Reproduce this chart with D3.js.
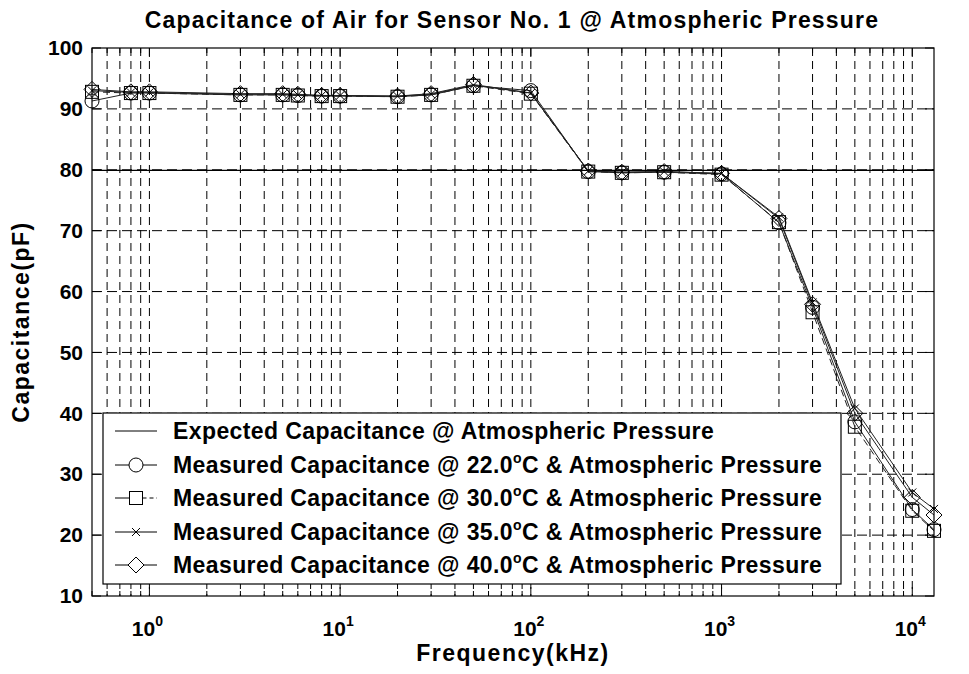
<!DOCTYPE html>
<html>
<head>
<meta charset="utf-8">
<script src="https://cdn.jsdelivr.net/npm/d3@7"></script>
<style>
  html, body { margin: 0; padding: 0; background: #fff; }
  svg { display: block; font-family: "Liberation Sans", Arial, sans-serif; }
</style>
</head>
<body>
<svg id="chart" width="969" height="674"></svg>
<script>
// ---------------- data ----------------
const freqs = [0.5, 0.8, 1, 3, 5, 6, 8, 10, 20, 30, 50, 100, 200, 300, 500, 1000, 2000, 3000, 5000, 10000, 13000];
const cap22 = [91.3, 92.6, 92.6, 92.3, 92.3, 92.2, 92.1, 92.1, 92.0, 92.3, 93.8, 93.0, 79.7, 79.5, 79.6, 79.3, 71.3, 57.4, 38.6, 24.2, 20.9];
const cap30 = [92.8, 92.6, 92.6, 92.3, 92.3, 92.2, 92.1, 92.1, 92.0, 92.3, 93.8, 92.5, 79.7, 79.5, 79.6, 79.2, 71.4, 56.6, 37.8, 24.0, 20.7];
const cap35 = [93.0, 92.7, 92.7, 92.4, 92.4, 92.3, 92.2, 92.2, 92.1, 92.4, 93.9, 92.6, 79.8, 79.6, 79.7, 79.4, 72.2, 58.2, 40.8, 27.0, 24.3];
const cap40 = [93.2, 92.8, 92.8, 92.5, 92.5, 92.4, 92.2, 92.2, 92.1, 92.5, 94.0, 92.6, 79.8, 79.6, 79.7, 79.4, 72.0, 57.9, 40.0, 26.2, 23.3];
const expectedFreqs = [0.5, 13000];
const expectedCap = [79.9, 79.9];
const yTicks = [10, 20, 30, 40, 50, 60, 70, 80, 90, 100];
const xMajorTicks = [1, 10, 100, 1000, 10000];
const xTickExponents = ["0", "1", "2", "3", "4"];
const legendLabels = [
  ["Expected Capacitance @ Atmospheric Pressure", null],
  ["Measured Capacitance @ 22.0", "C & Atmospheric Pressure"],
  ["Measured Capacitance @ 30.0", "C & Atmospheric Pressure"],
  ["Measured Capacitance @ 35.0", "C & Atmospheric Pressure"],
  ["Measured Capacitance @ 40.0", "C & Atmospheric Pressure"]
];
const titleText = "Capacitance of Air for Sensor No. 1 @ Atmospheric Pressure";

// ---------------- layout ----------------
const svg = d3.select("#chart");
const L = 92, R = 934, T = 48, B = 596;
const x = d3.scaleLog().domain([0.5, 13000]).range([L, R]);
const y = d3.scaleLinear().domain([10, 100]).range([B, T]);

const minorTicks = [];
for (let e = -1; e <= 4; e++) {
  for (let m = 1; m <= 9; m++) {
    const v = m * Math.pow(10, e);
    if (v >= 0.5 && v <= 13000) minorTicks.push(v);
  }
}

const grid = svg.append("g");
grid.selectAll("line.vg").data(minorTicks.filter(v => v > 0.5 && v < 13000)).enter()
  .append("line")
  .attr("x1", d => x(d)).attr("x2", d => x(d))
  .attr("y1", T).attr("y2", B)
  .attr("stroke", "#000").attr("stroke-width", 1)
  .attr("stroke-dasharray", "8,5");
grid.selectAll("line.hg").data(yTicks.filter(v => v > 10 && v < 100)).enter()
  .append("line")
  .attr("x1", L).attr("x2", R)
  .attr("y1", d => y(d)).attr("y2", d => y(d))
  .attr("stroke", "#000").attr("stroke-width", 1)
  .attr("stroke-dasharray", "10,5");

const tk = svg.append("g").attr("stroke", "#000").attr("stroke-width", 1);
minorTicks.forEach(v => {
  const major = xMajorTicks.includes(v);
  const len = major ? 9 : 5;
  tk.append("line").attr("x1", x(v)).attr("x2", x(v)).attr("y1", B).attr("y2", B - len);
  tk.append("line").attr("x1", x(v)).attr("x2", x(v)).attr("y1", T).attr("y2", T + len);
});
yTicks.forEach(v => {
  tk.append("line").attr("x1", L).attr("x2", L + 9).attr("y1", y(v)).attr("y2", y(v));
  tk.append("line").attr("x1", R).attr("x2", R - 9).attr("y1", y(v)).attr("y2", y(v));
});

const yAxis = d3.axisLeft(y).tickValues(yTicks).tickSize(0).tickPadding(9).tickFormat(d3.format("d"));
svg.append("g").attr("transform", `translate(${L},0)`).call(yAxis)
  .call(g => g.select(".domain").remove())
  .selectAll("text")
  .attr("font-family", "'Liberation Sans', Arial, sans-serif")
  .attr("font-size", 21).attr("font-weight", "bold").attr("fill", "#000");

const xl = svg.append("g");
xMajorTicks.forEach((v, i) => {
  const t = xl.append("text")
    .attr("x", x(v) - 2).attr("y", 636)
    .attr("text-anchor", "middle")
    .attr("font-size", 21).attr("font-weight", "bold").attr("fill", "#000");
  t.append("tspan").text("10");
  t.append("tspan").attr("dy", -10).attr("font-size", 14).text(xTickExponents[i]);
});

// ---------------- series ----------------
const line = d3.line().x(d => x(d[0])).y(d => y(d[1]));
const zip = (a, b) => a.map((v, i) => [v, b[i]]);

const plot = svg.append("g");
plot.append("path").datum(zip(expectedFreqs, expectedCap))
  .attr("d", line).attr("fill", "none").attr("stroke", "#000").attr("stroke-width", 1.2);

const seriesDefs = [
  { data: cap22, marker: "circle", dash: null },
  { data: cap30, marker: "square", dash: "7,4" },
  { data: cap35, marker: "cross", dash: null },
  { data: cap40, marker: "diamond", dash: null }
];

function drawMarker(g, type, cx, cy) {
  let el;
  if (type === "circle") {
    el = g.append("circle").attr("cx", cx).attr("cy", cy).attr("r", 7);
  } else if (type === "square") {
    el = g.append("rect").attr("x", cx - 6.5).attr("y", cy - 6.5).attr("width", 13).attr("height", 13);
  } else if (type === "cross") {
    el = g.append("path").attr("d", `M${cx-4},${cy-4}L${cx+4},${cy+4}M${cx-4},${cy+4}L${cx+4},${cy-4}`);
  } else if (type === "diamond") {
    el = g.append("path").attr("d", `M${cx},${cy-8}L${cx+8},${cy}L${cx},${cy+8}L${cx-8},${cy}Z`);
  }
  el.attr("fill", "none").attr("stroke", "#000").attr("stroke-width", 1);
}

seriesDefs.forEach(sd => {
  plot.append("path").datum(zip(freqs, sd.data))
    .attr("d", line).attr("fill", "none").attr("stroke", "#222").attr("stroke-width", 1)
    .attr("stroke-dasharray", sd.dash);
});
seriesDefs.forEach(sd => {
  const g = plot.append("g");
  zip(freqs, sd.data).forEach(d => drawMarker(g, sd.marker, x(d[0]), y(d[1])));
});

svg.append("rect").attr("x", L).attr("y", T).attr("width", R - L).attr("height", B - T)
  .attr("fill", "none").attr("stroke", "#000").attr("stroke-width", 1.2);

// ---------------- legend ----------------
const lg = svg.append("g");
lg.append("rect").attr("x", 103).attr("y", 413).attr("width", 738).attr("height", 171)
  .attr("fill", "#fff").attr("stroke", "#000").attr("stroke-width", 1.2);
const rowY = [431, 465, 498, 532, 565];
const legendMarkers = [null, "circle", "square", "cross", "diamond"];
const legendDash = [null, null, "4,3", null, null];
const markerHalf = { circle: 7, square: 6.5, diamond: 8 };
legendLabels.forEach((lab, i) => {
  const yy = rowY[i];
  const mk = legendMarkers[i];
  const h = mk && markerHalf[mk] ? markerHalf[mk] : 0;
  if (h > 0) {
    lg.append("line").attr("x1", 115).attr("x2", 136 - h).attr("y1", yy).attr("y2", yy)
      .attr("stroke", "#000").attr("stroke-width", 1);
    lg.append("line").attr("x1", 136 + h).attr("x2", 157).attr("y1", yy).attr("y2", yy)
      .attr("stroke", "#000").attr("stroke-width", 1).attr("stroke-dasharray", legendDash[i]);
  } else {
    lg.append("line").attr("x1", 115).attr("x2", 157).attr("y1", yy).attr("y2", yy)
      .attr("stroke", "#000").attr("stroke-width", 1);
  }
  if (mk) drawMarker(lg, mk, 136, yy);
  const t = lg.append("text").attr("x", 173).attr("y", yy + 8)
    .attr("font-size", 23).attr("font-weight", "bold").attr("letter-spacing", 0.4).attr("fill", "#000");
  t.append("tspan").text(lab[0]);
  if (lab[1]) {
    t.append("tspan").attr("dy", -10).attr("font-size", 14).text("o");
    t.append("tspan").attr("dy", 10).text(lab[1]);
  }
});

// ---------------- titles ----------------
svg.append("text").attr("x", 512).attr("y", 28).attr("text-anchor", "middle")
  .attr("font-size", 23).attr("font-weight", "bold").attr("letter-spacing", 1.2).text(titleText);
svg.append("text").attr("x", 513).attr("y", 661).attr("text-anchor", "middle")
  .attr("font-size", 23).attr("font-weight", "bold").attr("letter-spacing", 1.5).text("Frequency(kHz)");
svg.append("text").attr("transform", "translate(29,322) rotate(-90)").attr("text-anchor", "middle")
  .attr("font-size", 23).attr("font-weight", "bold").attr("letter-spacing", 1.5).text("Capacitance(pF)");
</script>
</body>
</html>
